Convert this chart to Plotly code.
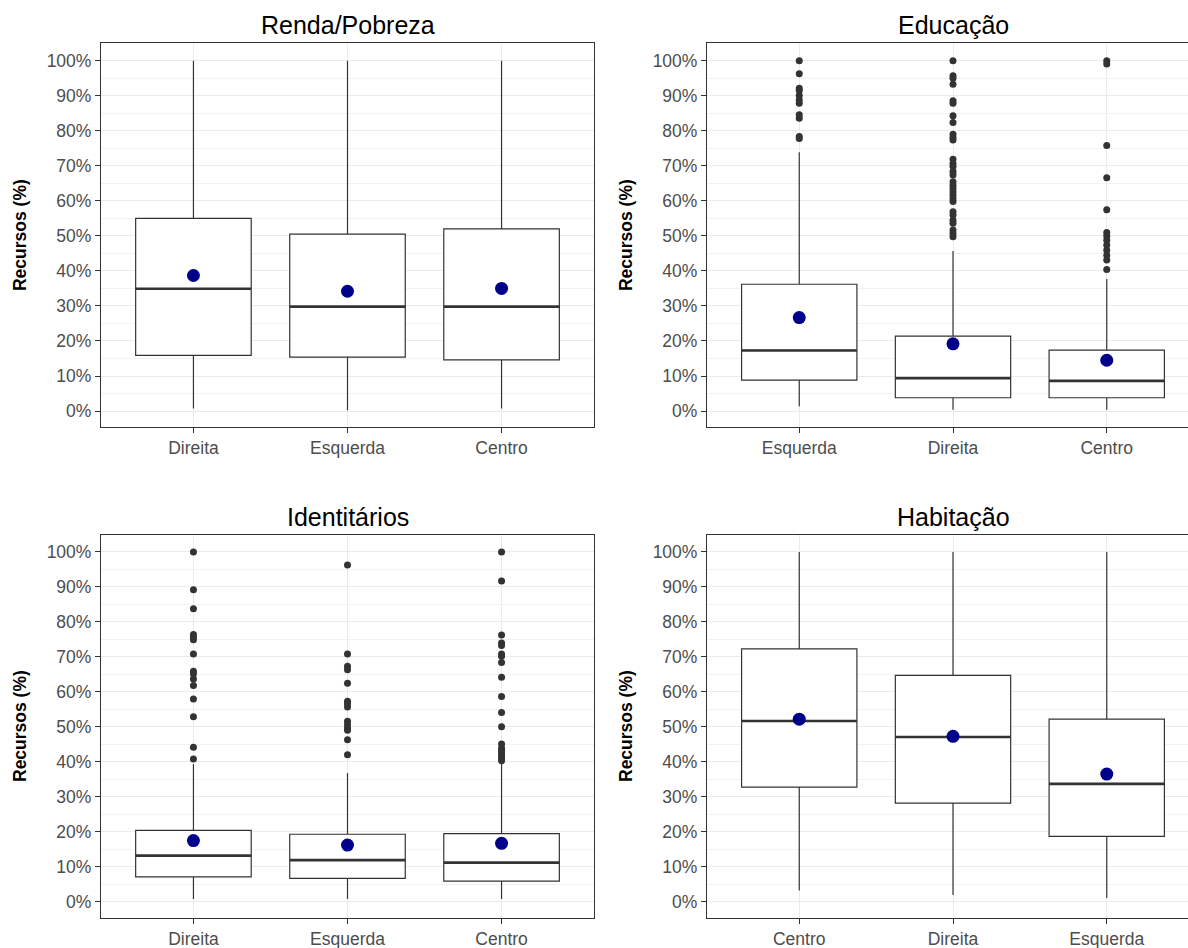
import plotly.graph_objects as go

W, H = 1188, 948

# ---- Renda/Pobreza ----
renda_cats = ["Direita", "Esquerda", "Centro"]
renda_q1 = [15.9, 15.4, 14.6]
renda_med = [34.9, 29.8, 29.8]
renda_q3 = [55.0, 50.5, 52.0]
renda_low = [0.7, 0.2, 0.7]
renda_high = [100, 100, 100]
renda_mean = [38.7, 34.2, 35.0]
renda_out = [[], [], []]

# ---- Educação ----
educ_cats = ["Esquerda", "Direita", "Centro"]
educ_q1 = [8.8, 3.8, 3.8]
educ_med = [17.3, 9.4, 8.6]
educ_q3 = [36.2, 21.4, 17.4]
educ_low = [1.4, 0.4, 0.4]
educ_high = [73.9, 45.7, 37.7]
educ_mean = [26.7, 19.2, 14.5]
educ_out = [
    [100, 96.3, 92.2, 91.5, 90.1, 88.8, 87.9, 84.6, 83.6, 78.4, 77.8],
    [100, 95.7, 95.0, 93.3, 88.6, 87.9, 84.3, 82.4, 79.0, 78.1, 77.4, 71.9,
     70.7, 69.8, 68.4, 67.4, 65.5, 64.5, 63.6, 62.6, 61.7, 60.7, 59.8, 56.9,
     56.0, 54.5, 53.6, 51.7, 50.7, 49.8],
    [100, 99.1, 75.8, 66.6, 57.5, 51.0, 50.0, 48.8, 47.4, 45.9, 44.5, 43.1, 40.4],
]

# ---- Identitários ----
ident_cats = ["Direita", "Esquerda", "Centro"]
ident_q1 = [7.1, 6.7, 5.9]
ident_med = [13.2, 11.9, 11.2]
ident_q3 = [20.4, 19.3, 19.5]
ident_low = [0.8, 0.8, 0.8]
ident_high = [39.4, 36.8, 39.7]
ident_mean = [17.5, 16.2, 16.7]
ident_out = [
    [100, 89.2, 83.8, 76.4, 75.7, 74.9, 70.8, 65.9, 65.2, 63.7, 61.8, 58.0,
     52.9, 44.2, 40.8],
    [96.3, 70.8, 67.3, 66.3, 62.5, 57.3, 56.6, 55.7, 51.6, 50.6, 49.7, 49.0,
     46.3, 42.0],
    [100, 91.7, 76.3, 74.0, 73.3, 70.8, 70.2, 68.4, 64.2, 58.7, 54.1, 50.0,
     45.1, 43.9, 43.3, 42.5, 41.8, 41.1, 40.3],
]

# ---- Habitação ----
hab_cats = ["Centro", "Direita", "Esquerda"]
hab_q1 = [32.8, 28.2, 18.7]
hab_med = [51.7, 47.1, 33.7]
hab_q3 = [72.3, 64.7, 52.2]
hab_low = [3.2, 1.9, 1.1]
hab_high = [100, 100, 100]
hab_mean = [52.2, 47.3, 36.5]
hab_out = [[], [], []]

y_ticks = list(range(0, 101, 10))
y_ticktext = [f"{v}%" for v in y_ticks]

FONT = "Liberation Sans, Arial, sans-serif"
DARK = "#333333"
BOX_W = 0.75

panels = [
    dict(title="Renda/Pobreza", cats=renda_cats, q1=renda_q1, med=renda_med, q3=renda_q3,
         low=renda_low, high=renda_high, mean=renda_mean, out=renda_out),
    dict(title="Educação", cats=educ_cats, q1=educ_q1, med=educ_med, q3=educ_q3,
         low=educ_low, high=educ_high, mean=educ_mean, out=educ_out),
    dict(title="Identitários", cats=ident_cats, q1=ident_q1, med=ident_med, q3=ident_q3,
         low=ident_low, high=ident_high, mean=ident_mean, out=ident_out),
    dict(title="Habitação", cats=hab_cats, q1=hab_q1, med=hab_med, q3=hab_q3,
         low=hab_low, high=hab_high, mean=hab_mean, out=hab_out),
]

# panel frames in pixels: (left, right, top, bottom)
frames = [
    (101, 594, 43.3, 426.8),
    (707, 1199, 43.3, 426.8),
    (101, 594, 534.5, 917.5),
    (707, 1199, 534.5, 917.5),
]

fig = go.Figure()
layout = dict(
    width=W, height=H,
    margin=dict(l=0, r=0, t=0, b=0),
    paper_bgcolor="white", plot_bgcolor="white",
    showlegend=False,
    font=dict(family=FONT),
    annotations=[], shapes=[],
)

for k, (p, fr) in enumerate(zip(panels, frames)):
    n = k + 1
    xa = "x" if n == 1 else f"x{n}"
    ya = "y" if n == 1 else f"y{n}"
    left, right, top, bottom = fr
    px_per_unit = (right - left) / 3.2
    vis_right = min(right, W)
    x_hi = -0.6 + (vis_right - left) / px_per_unit
    pos = list(range(len(p["cats"])))

    fig.add_trace(go.Box(
        x=pos, q1=p["q1"], median=p["med"], q3=p["q3"],
        lowerfence=p["low"], upperfence=p["high"],
        width=BOX_W, whiskerwidth=0, boxpoints=False,
        fillcolor="white", line=dict(color=DARK, width=1.2),
        xaxis=xa, yaxis=ya, hoverinfo="skip",
    ))

    # thicker median bars
    mx, my = [], []
    for i, m in zip(pos, p["med"]):
        mx += [i - BOX_W / 2, i + BOX_W / 2, None]
        my += [m, m, None]
    fig.add_trace(go.Scatter(x=mx, y=my, mode="lines",
                             line=dict(color=DARK, width=2.6),
                             xaxis=xa, yaxis=ya, hoverinfo="skip"))

    # outliers
    ox, oy = [], []
    for i, vals in zip(pos, p["out"]):
        ox += [i] * len(vals)
        oy += vals
    if ox:
        fig.add_trace(go.Scatter(x=ox, y=oy, mode="markers",
                                 marker=dict(color=DARK, size=7, line=dict(width=0)),
                                 xaxis=xa, yaxis=ya, hoverinfo="skip"))

    # means
    fig.add_trace(go.Scatter(x=pos, y=p["mean"], mode="markers",
                             marker=dict(color="darkblue", size=13, line=dict(width=0)),
                             xaxis=xa, yaxis=ya, hoverinfo="skip"))

    layout[f"xaxis{'' if n == 1 else n}"] = dict(
        domain=[left / W, vis_right / W], anchor=ya,
        range=[-0.6, x_hi], tickvals=pos, ticktext=p["cats"],
        showgrid=True, gridcolor="#ebebeb", gridwidth=1, zeroline=False,
        showline=True, linecolor=DARK, linewidth=1.2, mirror=True,
        ticks="outside", ticklen=5, tickcolor=DARK, tickwidth=1.2,
        tickfont=dict(size=17.5, color="#4d4d4d", family=FONT),
    )
    layout[f"yaxis{'' if n == 1 else n}"] = dict(
        domain=[1 - bottom / H, 1 - top / H], anchor=xa,
        range=[-4.5, 105], tickvals=y_ticks, ticktext=y_ticktext,
        showgrid=True, gridcolor="#ebebeb", gridwidth=1, zeroline=False,
        minor=dict(tickvals=list(range(5, 100, 10)), showgrid=True,
                   gridcolor="#f2f2f2", gridwidth=1, ticks=""),
        showline=True, linecolor=DARK, linewidth=1.2, mirror=(right <= W),
        ticks="outside", ticklen=5, tickcolor=DARK, tickwidth=1.2,
        tickfont=dict(size=17.5, color="#4d4d4d", family=FONT),
    )

    # panel title
    layout["annotations"].append(dict(
        text=p["title"], x=(left + right) / 2 / W, y=1 - (top - 18) / H,
        xref="paper", yref="paper", xanchor="center", yanchor="middle",
        showarrow=False, font=dict(size=25, color="black", family=FONT),
    ))
    # y axis title
    layout["annotations"].append(dict(
        text="<b>Recursos (%)</b>", x=(left - 81) / W, y=1 - (top + bottom) / 2 / H,
        xref="paper", yref="paper", xanchor="center", yanchor="middle",
        textangle=-90, showarrow=False,
        font=dict(size=17.5, color="black", family=FONT),
    ))

fig.update_layout(**layout)
fig.write_html("out.html")
